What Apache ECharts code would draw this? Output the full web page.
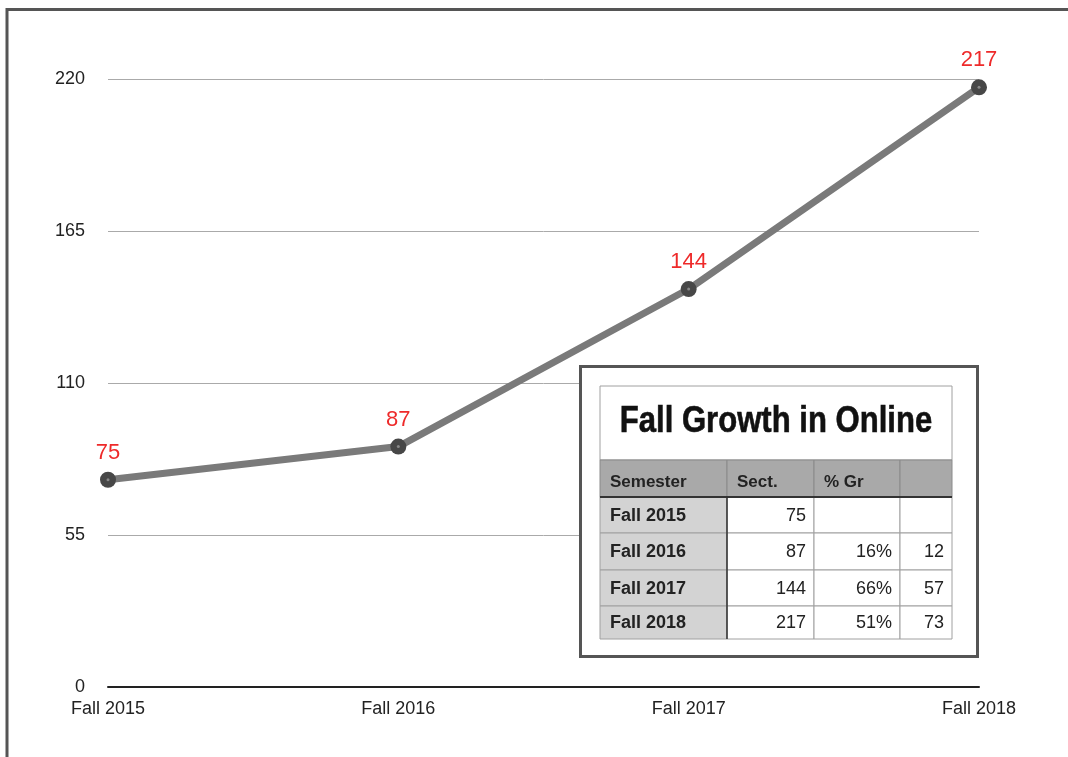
<!DOCTYPE html>
<html style="height: 100%">
<head>
    <meta charset="utf-8">
</head>
<body style="height: 100%; margin: 0; background: #ffffff;">
    <div id="container" style="width: 1068px; height: 757px"></div>
    <script type="text/javascript" src="https://fastly.jsdelivr.net/npm/echarts@6/dist/echarts.min.js"></script>
    <script type="text/javascript">
        var semesters = ['Fall 2015', 'Fall 2016', 'Fall 2017', 'Fall 2018'];
        var sections = [75, 87, 144, 217];
        var growthPct = ['', '16%', '66%', '51%'];
        var growthAbs = ['', '12', '57', '73'];
        var tableHeader = ['Semester', 'Sect.', '% Gr', ''];
        var tableTitle = 'Fall Growth in Online';

        var dom = document.getElementById('container');
        var myChart = echarts.init(dom, null, { renderer: 'canvas' });

        // table layout (pixels)
        var colX = [600, 727, 814, 900, 952];
        var rowY = [386, 460, 497, 533, 570, 606, 639];
        var font = '"Liberation Sans", Arial, sans-serif';

        var graphics = [];
        // page border (left + top)
        graphics.push({
            type: 'rect', silent: true, z: 0,
            shape: { x: 7, y: 9.5, width: 1100, height: 800 },
            style: { fill: null, stroke: '#555', lineWidth: 3 }
        });
        // table box
        graphics.push({
            type: 'rect', silent: true, z: 10,
            shape: { x: 580.5, y: 366.5, width: 397, height: 290 },
            style: { fill: '#fff', stroke: '#555', lineWidth: 3 }
        });
        // title cell
        graphics.push({
            type: 'rect', z: 11,
            shape: { x: colX[0], y: rowY[0], width: colX[4] - colX[0], height: rowY[1] - rowY[0] },
            style: { fill: '#fff', stroke: '#a0a0a0', lineWidth: 1 }
        });
        graphics.push({
            type: 'text', z: 12,
            x: (colX[0] + colX[4]) / 2, y: (rowY[0] + rowY[1]) / 2 - 1,
            scaleX: 0.84,
            style: {
                text: tableTitle, align: 'center', verticalAlign: 'middle',
                fontSize: 37, fontWeight: 'bold', fill: '#111', fontFamily: font,
                stroke: '#111', lineWidth: 0.6
            }
        });
        // header row
        for (var c = 0; c < 4; c++) {
            graphics.push({
                type: 'rect', z: 11,
                shape: { x: colX[c], y: rowY[1], width: colX[c + 1] - colX[c], height: rowY[2] - rowY[1] },
                style: { fill: '#a9a9a9', stroke: '#8a8a8a', lineWidth: 1 }
            });
            graphics.push({
                type: 'text', z: 12,
                x: colX[c] + 10, y: (rowY[1] + rowY[2]) / 2 + 4,
                style: {
                    text: tableHeader[c], verticalAlign: 'middle',
                    fontSize: 17, fontWeight: 'bold', fill: '#222', fontFamily: font
                }
            });
        }
        // body rows
        var cols = [semesters, sections, growthPct, growthAbs];
        for (var r = 0; r < semesters.length; r++) {
            var y0 = rowY[r + 2], y1 = rowY[r + 3];
            for (var c = 0; c < 4; c++) {
                graphics.push({
                    type: 'rect', z: 11,
                    shape: { x: colX[c], y: y0, width: colX[c + 1] - colX[c], height: y1 - y0 },
                    style: { fill: c === 0 ? '#d3d3d3' : '#fff', stroke: '#a0a0a0', lineWidth: 1 }
                });
                var v = String(cols[c][r]);
                graphics.push({
                    type: 'text', z: 12,
                    x: c === 0 ? colX[c] + 10 : colX[c + 1] - 8,
                    y: (y0 + y1) / 2 + 1,
                    style: {
                        text: v, verticalAlign: 'middle', align: c === 0 ? 'left' : 'right',
                        fontSize: 18, fontWeight: c === 0 ? 'bold' : 'normal',
                        fill: '#222', fontFamily: font
                    }
                });
            }
        }
        // dark separators
        graphics.push({
            type: 'line', z: 13,
            shape: { x1: colX[0], y1: rowY[2], x2: colX[4], y2: rowY[2] },
            style: { stroke: '#333', lineWidth: 2 }
        });
        graphics.push({
            type: 'line', z: 13,
            shape: { x1: colX[1], y1: rowY[2], x2: colX[1], y2: rowY[6] },
            style: { stroke: '#333', lineWidth: 1.5 }
        });

        var option = {
            backgroundColor: '#fff',
            animation: false,
            grid: { left: 108, right: 89, top: 79, bottom: 70 },
            xAxis: {
                type: 'category',
                data: semesters,
                boundaryGap: false,
                axisLine: { lineStyle: { color: '#222', width: 2 } },
                axisTick: { show: false },
                axisLabel: { color: '#222', fontSize: 18, margin: 13, fontFamily: font }
            },
            yAxis: {
                type: 'value',
                min: 0, max: 220, interval: 55,
                axisLine: { show: false },
                axisTick: { show: false },
                axisLabel: { color: '#222', fontSize: 18, margin: 23, fontFamily: font },
                splitLine: { lineStyle: { color: '#aaa', width: 1 } }
            },
            series: [{
                type: 'line',
                data: sections,
                symbol: 'circle',
                symbolSize: 16,
                lineStyle: { color: '#7a7a7a', width: 7 },
                itemStyle: { color: '#474747' },
                label: {
                    show: true, position: 'top', distance: 8,
                    color: '#ee2a2a', fontSize: 22, fontFamily: font
                },
                z: 3
            }, {
                type: 'scatter',
                data: sections,
                symbolSize: 3,
                itemStyle: { color: '#999' },
                silent: true,
                z: 4
            }],
            graphic: graphics
        };

        myChart.setOption(option);
        window.addEventListener('resize', myChart.resize);
    </script>
</body>
</html>
